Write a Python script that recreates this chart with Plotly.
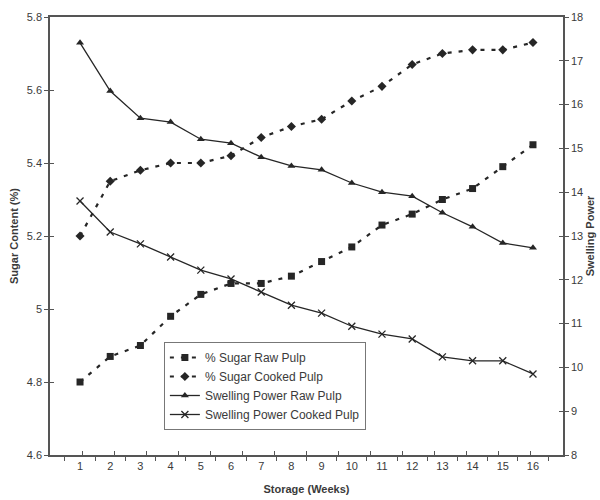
import plotly.graph_objects as go

weeks = [str(i) for i in range(1, 17)]
sugar_raw = [4.80, 4.87, 4.90, 4.98, 5.04, 5.07, 5.07, 5.09, 5.13, 5.17, 5.23, 5.26, 5.30, 5.33, 5.39, 5.45]
sugar_cooked = [5.20, 5.35, 5.38, 5.40, 5.40, 5.42, 5.47, 5.50, 5.52, 5.57, 5.61, 5.67, 5.70, 5.71, 5.71, 5.73]
swell_raw = [17.41, 16.31, 15.69, 15.60, 15.21, 15.12, 14.80, 14.60, 14.51, 14.21, 14.00, 13.91, 13.53, 13.21, 12.84, 12.73]
swell_cooked = [13.80, 13.09, 12.82, 12.52, 12.22, 12.02, 11.72, 11.42, 11.24, 10.94, 10.76, 10.65, 10.24, 10.15, 10.15, 9.85]

FONT = "Liberation Sans, Arial, sans-serif"
INK = "#262626"
TXT = "#3a3a3a"
AX = "#555"

fig = go.Figure()
fig.add_trace(go.Scatter(x=weeks, y=sugar_raw, name="% Sugar Raw Pulp", mode="lines+markers",
                         line=dict(color=INK, width=2.2, dash="4px,7px"),
                         marker=dict(symbol="square", size=7, color=INK), yaxis="y"))
fig.add_trace(go.Scatter(x=weeks, y=sugar_cooked, name="% Sugar Cooked Pulp", mode="lines+markers",
                         line=dict(color=INK, width=2.2, dash="4px,7px"),
                         marker=dict(symbol="diamond", size=7, color=INK), yaxis="y"))
fig.add_trace(go.Scatter(x=weeks, y=swell_raw, name="Swelling Power Raw Pulp", mode="lines+markers",
                         line=dict(color=INK, width=1.3),
                         marker=dict(symbol="triangle-up", size=7, color=INK), yaxis="y2"))
fig.add_trace(go.Scatter(x=weeks, y=swell_cooked, name="Swelling Power Cooked Pulp", mode="lines+markers",
                         line=dict(color=INK, width=1.3),
                         marker=dict(symbol="x-thin-open", size=7, color=INK, line=dict(width=1.3, color=INK)),
                         yaxis="y2"))

# empty helper traces so the overlay tick axes (inner half of crossing ticks) are drawn
fig.add_trace(go.Scatter(x=[], y=[], xaxis="x2", yaxis="y3", showlegend=False, hoverinfo="skip"))
fig.add_trace(go.Scatter(x=[], y=[], xaxis="x2", yaxis="y4", showlegend=False, hoverinfo="skip"))

axis_common = dict(showgrid=False, zeroline=False, showline=True, linecolor=AX, linewidth=1.5,
                   tickfont=dict(family=FONT, size=11, color=TXT), ticklen=4, tickcolor=AX,
                   automargin=False)
inner = dict(showgrid=False, zeroline=False, showline=False, showticklabels=False,
             ticks="inside", ticklen=4, tickcolor=AX, tickwidth=1, automargin=False)

n = len(weeks)
fig.update_layout(
    template="none",
    width=600, height=500, paper_bgcolor="white", plot_bgcolor="white",
    margin=dict(l=50, r=37, t=17, b=45),
    font=dict(family=FONT, color=TXT),
    xaxis=dict(**axis_common, type="category", ticks="outside", tickson="boundaries", mirror=True,
               title=dict(text="<b>Storage (Weeks)</b>", font=dict(family=FONT, size=11, color=TXT), standoff=14)),
    xaxis2=dict(**inner, overlaying="x", anchor="y", range=[-0.5, n - 0.5],
                tickvals=[i - 0.5 for i in range(n + 1)]),
    yaxis=dict(**axis_common, range=[4.6, 5.8], dtick=0.2, ticks="outside", tickformat="~g",
               title=dict(text="<b>Sugar Content (%)</b>", font=dict(family=FONT, size=11, color=TXT), standoff=6)),
    yaxis2=dict(**axis_common, range=[8, 18], dtick=1, ticks="outside", overlaying="y", side="right",
                title=dict(text="<b>Swelling Power</b>", font=dict(family=FONT, size=11, color=TXT), standoff=4)),
    yaxis3=dict(**inner, overlaying="y", anchor="x2", side="left", range=[4.6, 5.8], dtick=0.2),
    yaxis4=dict(**inner, overlaying="y", anchor="x2", side="right", range=[8, 18], dtick=1),
    legend=dict(x=0.222, y=0.258, xanchor="left", yanchor="top", bgcolor="white",
                bordercolor="#777", borderwidth=1, font=dict(family=FONT, size=12, color=TXT),
                tracegroupgap=0, itemwidth=30),
    showlegend=True,
)
fig.write_html("out.html")
